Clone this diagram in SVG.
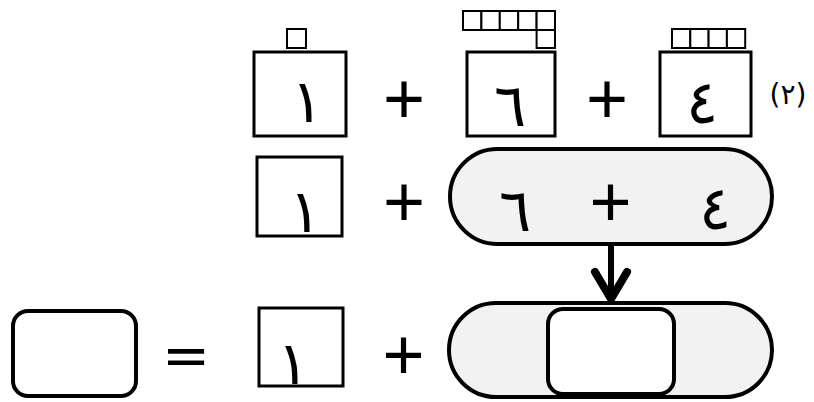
<svg xmlns="http://www.w3.org/2000/svg" width="814" height="402" viewBox="0 0 814 402">
<style>
.box{fill:#fff;stroke:#000;stroke-width:3}
.sq{fill:#fff;stroke:#000;stroke-width:2}
.pill{fill:#f2f2f2;stroke:#000;stroke-width:4}
.rr{fill:#fff;stroke:#000;stroke-width:4}
.dig{font-family:"DejaVu Sans",sans-serif;font-size:60px;text-anchor:middle;fill:#000}
.op{font-family:"Liberation Sans",Arial,sans-serif;font-size:72px;text-anchor:middle;fill:#000}
.lbl{font-family:"DejaVu Sans",sans-serif;font-size:28px;text-anchor:middle;fill:#000}
</style>
<g id="row1-one">
<rect class="sq" x="287" y="29" width="19" height="19"/>
<rect class="box" x="254" y="52" width="92" height="84"/>
<text class="dig" x="307" y="122">١</text>
</g>
<text class="op" x="404" y="122.5">+</text>
<g id="row1-six">
<rect class="sq" x="463" y="11" width="18.4" height="19"/>
<rect class="sq" x="481.4" y="11" width="18.4" height="19"/>
<rect class="sq" x="499.8" y="11" width="18.4" height="19"/>
<rect class="sq" x="518.2" y="11" width="18.4" height="19"/>
<rect class="sq" x="536.6" y="11" width="18.4" height="19"/>
<rect class="sq" x="536.6" y="30" width="18.4" height="18"/>
<rect class="box" x="467" y="52" width="88" height="84"/>
<text class="dig" x="510" y="126">٦</text>
</g>
<text class="op" x="607" y="122.5">+</text>
<g id="row1-four">
<rect class="sq" x="672" y="29" width="18.3" height="19"/>
<rect class="sq" x="690.3" y="29" width="18.3" height="19"/>
<rect class="sq" x="708.6" y="29" width="18.3" height="19"/>
<rect class="sq" x="726.9" y="29" width="18.3" height="19"/>
<rect class="box" x="660" y="52" width="91" height="84"/>
<text class="dig" x="702" y="123">٤</text>
</g>
<text class="lbl" x="788" y="104">(٢)</text>
<g id="row2-one">
<rect class="box" x="257" y="157" width="85" height="79"/>
<text class="dig" x="305" y="232">١</text>
</g>
<text class="op" x="404" y="225.5">+</text>
<g id="row2-group">
<rect class="pill" x="450" y="149" width="322" height="95" rx="47.5"/>
<text class="dig" x="515" y="231">٦</text>
<text class="op" x="610.5" y="225.5">+</text>
<text class="dig" x="715" y="229">٤</text>
</g>
<g id="connectors">
<line x1="611" y1="245" x2="611" y2="298" stroke="#000" stroke-width="6"/>
<polyline points="595,272 611,299 627,272" fill="none" stroke="#000" stroke-width="8" stroke-linecap="round" stroke-linejoin="miter"/>
</g>
<g id="result">
<rect class="rr" x="13" y="311" width="123" height="85" rx="15"/>
</g>
<text class="op" x="186" y="382" transform="translate(0,142.4) scale(1,0.6)" style="font-weight:bold">=</text>
<g id="row3-one">
<rect class="box" x="259" y="308" width="84" height="78"/>
<text class="dig" x="293" y="384">١</text>
</g>
<text class="op" x="403.5" y="379">+</text>
<g id="row3-group">
<rect class="pill" x="449" y="303" width="323" height="94" rx="47"/>
<rect class="rr" x="548" y="309" width="126" height="85" rx="15"/>
</g>
</svg>
